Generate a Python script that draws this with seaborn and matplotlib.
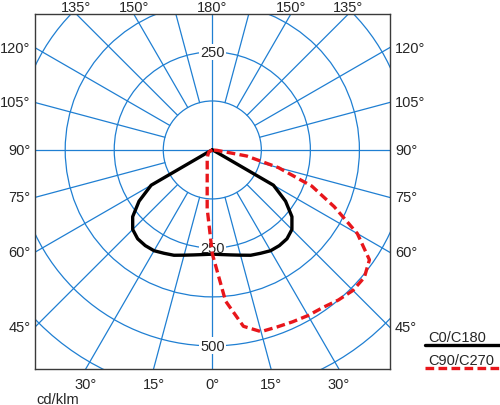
import numpy as np
import pandas as pd
import seaborn as sns
import matplotlib
matplotlib.use('Agg')
import matplotlib.pyplot as plt
from matplotlib.lines import Line2D

############# Data ###########
########################################################
# gamma angle from nadir (deg) and intensity (cd/klm)
gamma_c0 = [0, 5, 10, 15, 20, 25, 30, 35, 40, 45, 50, 55, 60, 65, 70, 75, 80, 85, 90]
r_c0 = [266, 268, 272, 278, 286, 291, 297, 298, 296, 287, 265, 228, 180, 6, 0, 0, 0, 0, 0]

gamma_c90 = [0, 5, 10, 15, 20, 25, 30, 35, 40, 45, 50, 55, 60, 65, 70, 75, 80, 85, 90]
r_c90 = [265, 387, 457, 480, 481, 484, 488, 491, 500, 507, 506, 489, 427, 343, 270, 175, 89, 12, 0]

gamma_c270 = [0, 5, 10, 15, 20, 30, 40, 60, 90]
r_c270 = [265, 150, 75, 50, 38, 26, 18, 10, 0]

# grid / labels
circle_radii = [125, 250, 375, 500, 625, 750]
circle_labels = [250, 500]
spoke_angles = list(range(0, 360, 15))
side_angles = [45, 60, 75, 90, 105, 120]
top_angles = [135, 150, 180]
bottom_angles = [0, 15, 30]

legend_names = ['C0/C180', 'C90/C270']

############# Helpers ##################################
########################################################
def to_xy(gamma, r, side=1):
    g = np.radians(np.asarray(gamma, dtype=float))
    r = np.asarray(r, dtype=float)
    return side * r * np.sin(g), -r * np.cos(g)


def curve_frame(g_left, r_left, g_right, r_right):
    xl, yl = to_xy(g_left, r_left, side=-1)
    xr, yr = to_xy(g_right, r_right, side=1)
    x = np.concatenate([xl[::-1], xr])
    y = np.concatenate([yl[::-1], yr])
    return pd.DataFrame({'x': x, 'y': y, 'order': np.arange(len(x))})


############# Plot #####################################
########################################################
sns.set_style('white')
plt.rcParams['font.family'] = ['Liberation Sans', 'DejaVu Sans']

blue = '#1f7fd2'
xmin, xmax, ymin, ymax = -452, 453, -559, 347

fig = plt.figure(figsize=(5.0, 4.06), dpi=100)
ax = fig.add_axes([0.07, 0.0887, 0.71, 0.8744])
ax.set_xlim(xmin, xmax)
ax.set_ylim(ymin, ymax)
ax.set_xticks([])
ax.set_yticks([])
for sp in ax.spines.values():
    sp.set_color('#3a3a3a')
    sp.set_linewidth(1.0)

# circles
for rad in circle_radii:
    ax.add_patch(plt.Circle((0, 0), rad, fill=False, ec=blue, lw=0.9, zorder=1))

# spokes
for a in spoke_angles:
    r0 = 0 if a % 90 == 0 else 125
    xs, ys = to_xy([a, a], [r0, 1200])
    ax.plot(xs, ys, color=blue, lw=0.9, zorder=1)

# circle value labels
for val in circle_labels:
    ax.text(0, -val, str(val), ha='center', va='center', fontsize=10.5, zorder=2,
            bbox=dict(boxstyle='square,pad=0.1', fc='white', ec='none'))
ax.text(0, 250, '250', ha='center', va='center', fontsize=10.5, zorder=2,
        bbox=dict(boxstyle='square,pad=0.1', fc='white', ec='none'))

# curves
df_c0 = curve_frame(gamma_c0, r_c0, gamma_c0, r_c0)
df_c90 = curve_frame(gamma_c270, r_c270, gamma_c90, r_c90)
sns.lineplot(data=df_c0, x='x', y='y', sort=False, estimator=None, color='black',
             lw=2.4, ax=ax, zorder=4)
sns.lineplot(data=df_c90, x='x', y='y', sort=False, estimator=None, color='#e8161b',
             lw=2.4, linestyle=(0, (2.6, 1.3)), ax=ax, zorder=5)
ax.set_xlabel('')
ax.set_ylabel('')

# angle labels on the frame
ytr = ax.get_yaxis_transform()
xtr = ax.get_xaxis_transform()
for a in side_angles:
    g = np.radians(a)
    yv = -abs(xmin) * np.cos(g) / np.sin(g)
    ax.text(-0.012, yv, f'{a}°', transform=ytr, ha='right', va='center', fontsize=10.5)
    ax.text(1.014, yv, f'{a}°', transform=ytr, ha='left', va='center', fontsize=10.5)
for a in top_angles:
    g = np.radians(a)
    xv = ymax * np.tan(np.pi - g)
    for s in ([1] if a == 180 else [-1, 1]):
        ax.text(s * xv, 1.019, f'{a}°', transform=xtr, ha='center', va='center', fontsize=10.5)
for a in bottom_angles:
    g = np.radians(a)
    xv = abs(ymin) * np.tan(g)
    for s in ([1] if a == 0 else [-1, 1]):
        ax.text(s * xv, -0.042, f'{a}°', transform=xtr, ha='center', va='center', fontsize=10.5)

ax.text(0.005, -0.085, 'cd/klm', transform=ax.transAxes, ha='left', va='center', fontsize=10.5)

# legend
fig.text(0.856, 0.1675, legend_names[0], ha='left', va='center', fontsize=10.5)
fig.add_artist(Line2D([0.85, 1.0], [0.148, 0.148], transform=fig.transFigure,
                      color='black', lw=2.4))
fig.text(0.856, 0.111, legend_names[1], ha='left', va='center', fontsize=10.5)
fig.add_artist(Line2D([0.85, 1.0], [0.091, 0.091], transform=fig.transFigure,
                      color='#e8161b', lw=2.4, linestyle=(0, (2.6, 1.3))))

plt.savefig('out.png', dpi=100)
